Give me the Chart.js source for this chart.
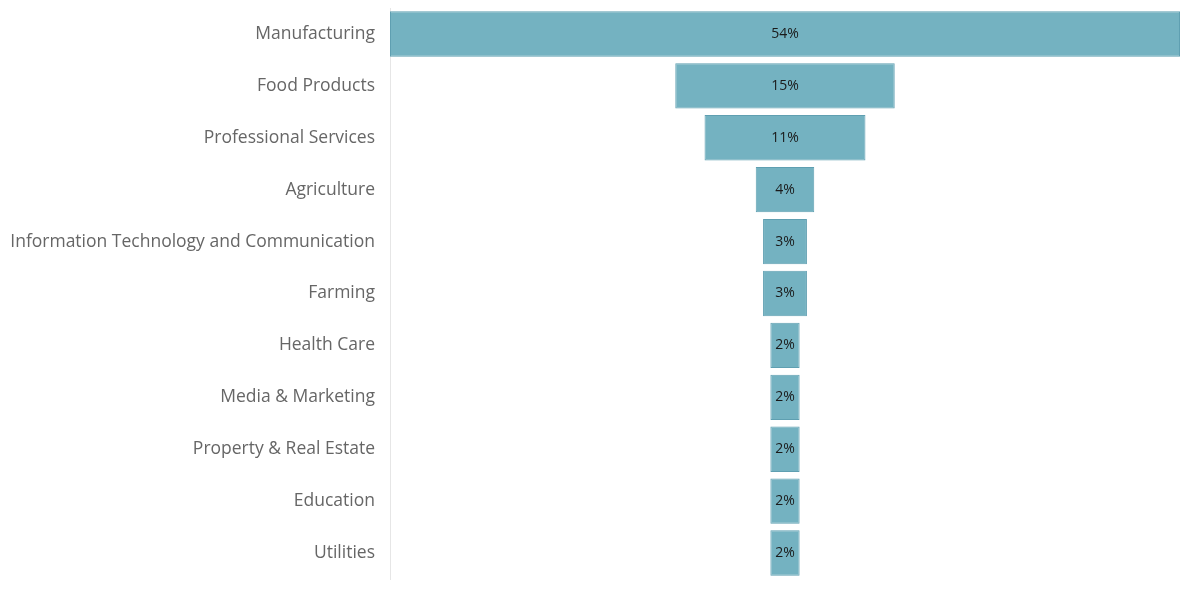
<!DOCTYPE html>
<html>
<head>
<meta charset="utf-8">
<title>Industries</title>
<script src="https://cdn.jsdelivr.net/npm/chart.js@4/dist/chart.umd.min.js"></script>
<style>
  body { margin: 0; background: #fff; }
  #wrap { width: 1182px; height: 611px; }
</style>
</head>
<body>
<div id="wrap"><canvas id="funnel" width="1182" height="611"></canvas></div>
<script>
let industries = ['Manufacturing', 'Food Products', 'Professional Services', 'Agriculture',
  'Information Technology and Communication', 'Farming', 'Health Care', 'Media & Marketing',
  'Property & Real Estate', 'Education', 'Utilities'];
let shares = [54, 15, 11, 4, 3, 3, 2, 2, 2, 2, 2];

// each bar sits centred on zero so the rows stack up like a funnel
let spans = shares.map(function (v) { return [-v / 2, v / 2]; });
let maxShare = Math.max.apply(null, shares);

// prints the percentage in the middle of every bar
let valueLabels = {
  id: 'valueLabels',
  afterDatasetsDraw: function (chart) {
    let ctx = chart.ctx;
    let meta = chart.getDatasetMeta(0);
    ctx.save();
    ctx.font = '14px "Open Sans", sans-serif';
    ctx.fillStyle = '#1a1a1a';
    ctx.textAlign = 'center';
    ctx.textBaseline = 'middle';
    meta.data.forEach(function (bar, i) {
      let c = bar.getCenterPoint();
      ctx.fillText(shares[i] + '%', c.x, c.y);
    });
    ctx.restore();
  }
};

let chartcontext = document.getElementById('funnel').getContext('2d');

let chartConfig = {
  type: 'bar',
  data: {
    labels: industries,
    datasets: [{
      label: 'Share',
      data: spans,
      backgroundColor: '#74b2c1',
      borderColor: '#5f9fb1',
      borderWidth: 1,
      borderSkipped: false,
      barPercentage: 0.92,
      categoryPercentage: 0.95
    }]
  },
  options: {
    indexAxis: 'y',
    responsive: false,
    animation: false,
    layout: { padding: { top: 8, bottom: 32, right: 2, left: 0 } },
    plugins: {
      legend: { display: false },
      tooltip: { enabled: false }
    },
    scales: {
      x: {
        display: false,
        min: -maxShare / 2,
        max: maxShare / 2
      },
      y: {
        afterFit: function (scale) {
          scale.width = 390;
          scale.paddingTop = 0;
          scale.paddingBottom = 0;
        },
        grid: { display: false, drawTicks: false },
        border: { display: true, color: '#e6e6e6' },
        ticks: {
          padding: 15,
          color: '#666',
          font: { family: '"Open Sans", sans-serif', size: 17.5 }
        }
      }
    }
  },
  plugins: [valueLabels]
};

let mychart = new Chart(chartcontext, chartConfig);
</script>
</body>
</html>
